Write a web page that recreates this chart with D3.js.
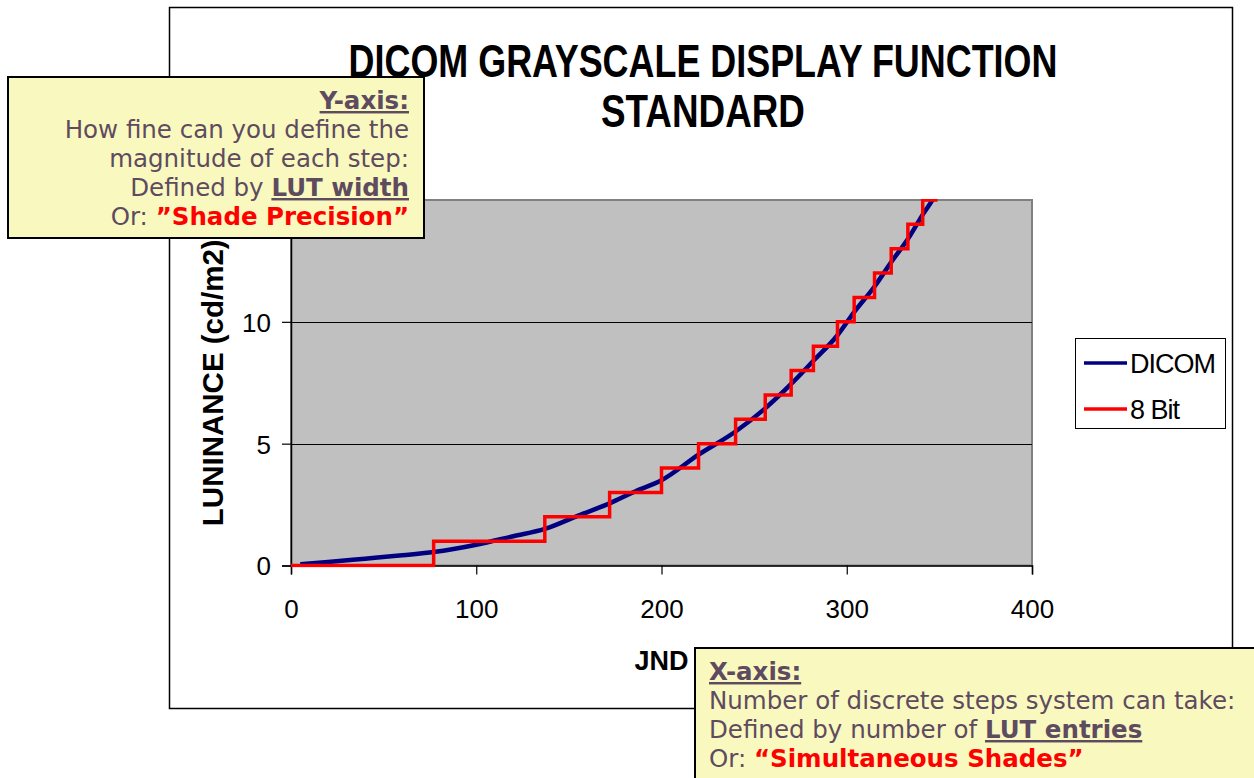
<!DOCTYPE html>
<html>
<head>
<meta charset="utf-8">
<script src="https://d3js.org/d3.v7.min.js"></script>
<style>
  body { margin: 0; background: #fff; }
  svg { display: block; }
  .tick-label { font-family: "Liberation Sans", Arial, sans-serif; font-size: 26px; fill: #000; }
  .callout text { font-family: "DejaVu Sans", Verdana, sans-serif; font-size: 24.5px; fill: #5f4b5f; }
</style>
</head>
<body>
<svg width="1254" height="778"></svg>
<script>
// DICOM curve (JND index -> luminance cd/m2)
var dicomJnd = [5, 20, 40, 60, 77, 100, 120, 137, 155, 172, 186, 200, 220, 240, 256, 270, 282, 295, 304, 315, 324, 333, 341, 347, 352];
var dicomLum = [0.05, 0.14, 0.28, 0.42, 0.55, 0.85, 1.2, 1.5, 2.05, 2.55, 3.05, 3.5, 4.55, 5.5, 6.45, 7.45, 8.4, 9.45, 10.4, 11.45, 12.45, 13.4, 14.4, 15.1, 15.9];

// 8 bit steps: x where each level starts, and the level
var stepJnd = [0, 77, 137, 172, 200, 220, 240, 256, 270, 282, 295, 304, 315, 324, 333, 341, 349];
var stepLum = [0, 1, 2, 3, 4, 5, 6, 7, 8, 9, 10, 11, 12, 13, 14, 15, 15];

var xTicks = [0, 100, 200, 300, 400];
var yTicks = [0, 5, 10];
var gridLines = [5, 10];

var titleLines = ['DICOM GRAYSCALE DISPLAY FUNCTION', 'STANDARD'];
var titleWidths = [709, 204];
var legendNames = ['DICOM', '8 Bit'];
var legendColors = ['#000080', '#ff0000'];

var svg = d3.select('svg');

// outer chart frame
svg.append('rect')
    .attr('x', 169.5).attr('y', 7.5)
    .attr('width', 1063).attr('height', 701)
    .attr('fill', '#fff').attr('stroke', '#000').attr('stroke-width', 1.5);

var plot = {l: 291, r: 1032, t: 200, b: 565.5};

var x = d3.scaleLinear().domain([0, 400]).range([plot.l, plot.r]);
var y = d3.scaleLinear().domain([0, 15]).range([plot.b, plot.t]);

// grey plot area
svg.append('rect')
    .attr('x', plot.l).attr('y', plot.t)
    .attr('width', plot.r - plot.l).attr('height', plot.b - plot.t)
    .attr('fill', '#c0c0c0')
    .attr('stroke', '#808080').attr('stroke-width', 2);

svg.append('defs').append('clipPath').attr('id', 'plotClip')
    .append('rect')
    .attr('x', plot.l).attr('y', plot.t - 1)
    .attr('width', plot.r - plot.l).attr('height', plot.b - plot.t + 3);

svg.selectAll('.grid')
    .data(gridLines)
    .enter().append('line')
    .attr('class', 'grid')
    .attr('x1', plot.l).attr('x2', plot.r)
    .attr('y1', function(d) { return Math.round(y(d)) + 0.5; })
    .attr('y2', function(d) { return Math.round(y(d)) + 0.5; })
    .attr('stroke', '#000').attr('stroke-width', 1);

// axes
var xAxis = d3.axisBottom(x).tickValues(xTicks).tickSize(9).tickPadding(25);
var yAxis = d3.axisLeft(y).tickValues(yTicks).tickSize(9).tickPadding(11);

var xG = svg.append('g')
    .attr('transform', 'translate(0,' + plot.b + ')')
    .call(xAxis);
var yG = svg.append('g')
    .attr('transform', 'translate(' + plot.l + ',0)')
    .call(yAxis);

[xG, yG].forEach(function(g) {
    g.select('.domain').attr('stroke', '#000').attr('stroke-width', 1.5);
    g.selectAll('.tick line').attr('stroke', '#000').attr('stroke-width', 1.2);
    g.selectAll('.tick text').attr('class', 'tick-label').attr('font-size', null).attr('font-family', null);
});
xG.selectAll('.tick text').attr('dy', '0.71em');
yG.selectAll('.tick text').attr('dy', '0.36em');

// series
var lines = svg.append('g').attr('clip-path', 'url(#plotClip)');

var dicomLine = d3.line()
    .x(function(d, i) { return x(dicomJnd[i]); })
    .y(function(d) { return y(d); })
    .curve(d3.curveMonotoneX);

lines.append('path')
    .attr('d', dicomLine(dicomLum))
    .attr('fill', 'none')
    .attr('stroke', '#000080')
    .attr('stroke-width', 4.5);

var stepLine = d3.line()
    .x(function(d, i) { return x(stepJnd[i]); })
    .y(function(d) { return y(d); })
    .curve(d3.curveStepAfter);

lines.append('path')
    .attr('d', stepLine(stepLum))
    .attr('fill', 'none')
    .attr('stroke', '#ff0000')
    .attr('stroke-width', 3.5);

// title, squeezed horizontally like the original
titleLines.forEach(function(t, i) {
    var g = svg.append('g');
    var txt = g.append('text')
        .attr('text-anchor', 'middle')
        .style('font-family', '"Liberation Sans", Arial, sans-serif')
        .style('font-weight', 'bold')
        .style('font-size', '47px')
        .text(t);
    var w = txt.node().getComputedTextLength();
    g.attr('transform', 'translate(703,' + (77 + i * 50) + ') scale(' + (titleWidths[i] / w) + ',1)');
});

// axis titles
svg.append('text')
    .attr('transform', 'translate(222.5,' + ((plot.t + plot.b) / 2) + ') rotate(-90)')
    .attr('text-anchor', 'middle')
    .style('font-family', '"Liberation Sans", Arial, sans-serif')
    .style('font-weight', 'bold')
    .style('font-size', '29.5px')
    .text('LUNINANCE  (cd/m2)');

svg.append('text')
    .attr('x', (plot.l + plot.r) / 2)
    .attr('y', 670)
    .attr('text-anchor', 'middle')
    .style('font-family', '"Liberation Sans", Arial, sans-serif')
    .style('font-weight', 'bold')
    .style('font-size', '27px')
    .text('JND');

// legend
var legend = svg.append('g').attr('transform', 'translate(1075,338)');
legend.append('rect')
    .attr('x', 0.5).attr('y', 0.5)
    .attr('width', 150).attr('height', 90)
    .attr('fill', '#fff').attr('stroke', '#000').attr('stroke-width', 1);

var legendItem = legend.selectAll('.item')
    .data(legendNames)
    .enter().append('g')
    .attr('class', 'item')
    .attr('transform', function(d, i) { return 'translate(0,' + (25 + i * 46) + ')'; });
legendItem.append('line')
    .attr('x1', 9).attr('x2', 52)
    .attr('stroke', function(d, i) { return legendColors[i]; })
    .attr('stroke-width', 3.5);
legendItem.append('text')
    .attr('x', 55)
    .attr('dy', '0.36em')
    .style('font-family', '"Liberation Sans", Arial, sans-serif')
    .style('font-size', '27px')
    .style('letter-spacing', '-1px')
    .text(function(d) { return d; });

// callouts
var yNote = svg.append('g').attr('class', 'callout');
yNote.append('rect')
    .attr('x', 8).attr('y', 77)
    .attr('width', 416).attr('height', 161)
    .attr('fill', '#f9f9bf').attr('stroke', '#000').attr('stroke-width', 2);

var yText = yNote.append('text').attr('text-anchor', 'end');
yText.append('tspan').attr('x', 409).attr('y', 109)
    .style('font-weight', 'bold').style('text-decoration', 'underline')
    .text('Y-axis:');
yText.append('tspan').attr('x', 409).attr('y', 138).text('How fine can you define the');
yText.append('tspan').attr('x', 409).attr('y', 167).text('magnitude of each step:');
yText.append('tspan').attr('x', 409).attr('y', 196).text('Defined by ');
yText.append('tspan')
    .style('font-weight', 'bold').style('text-decoration', 'underline')
    .text('LUT width');
yText.append('tspan').attr('x', 409).attr('y', 225).text('Or:  ');
yText.append('tspan')
    .style('font-weight', 'bold').style('fill', '#ff0000')
    .text('\u201dShade Precision\u201d');

var xNote = svg.append('g').attr('class', 'callout');
xNote.append('rect')
    .attr('x', 695).attr('y', 648)
    .attr('width', 600).attr('height', 200)
    .attr('fill', '#f9f9bf').attr('stroke', '#000').attr('stroke-width', 2);

var xText = xNote.append('text');
xText.append('tspan').attr('x', 709).attr('y', 680)
    .style('font-weight', 'bold').style('text-decoration', 'underline')
    .text('X-axis:');
xText.append('tspan').attr('x', 709).attr('y', 709).text('Number of discrete steps system can take:');
xText.append('tspan').attr('x', 709).attr('y', 738).text('Defined by number of ');
xText.append('tspan')
    .style('font-weight', 'bold').style('text-decoration', 'underline')
    .text('LUT entries');
xText.append('tspan').attr('x', 709).attr('y', 767).text('Or:  ');
xText.append('tspan')
    .style('font-weight', 'bold').style('fill', '#ff0000')
    .text('\u201cSimultaneous Shades\u201d');
</script>
</body>
</html>
